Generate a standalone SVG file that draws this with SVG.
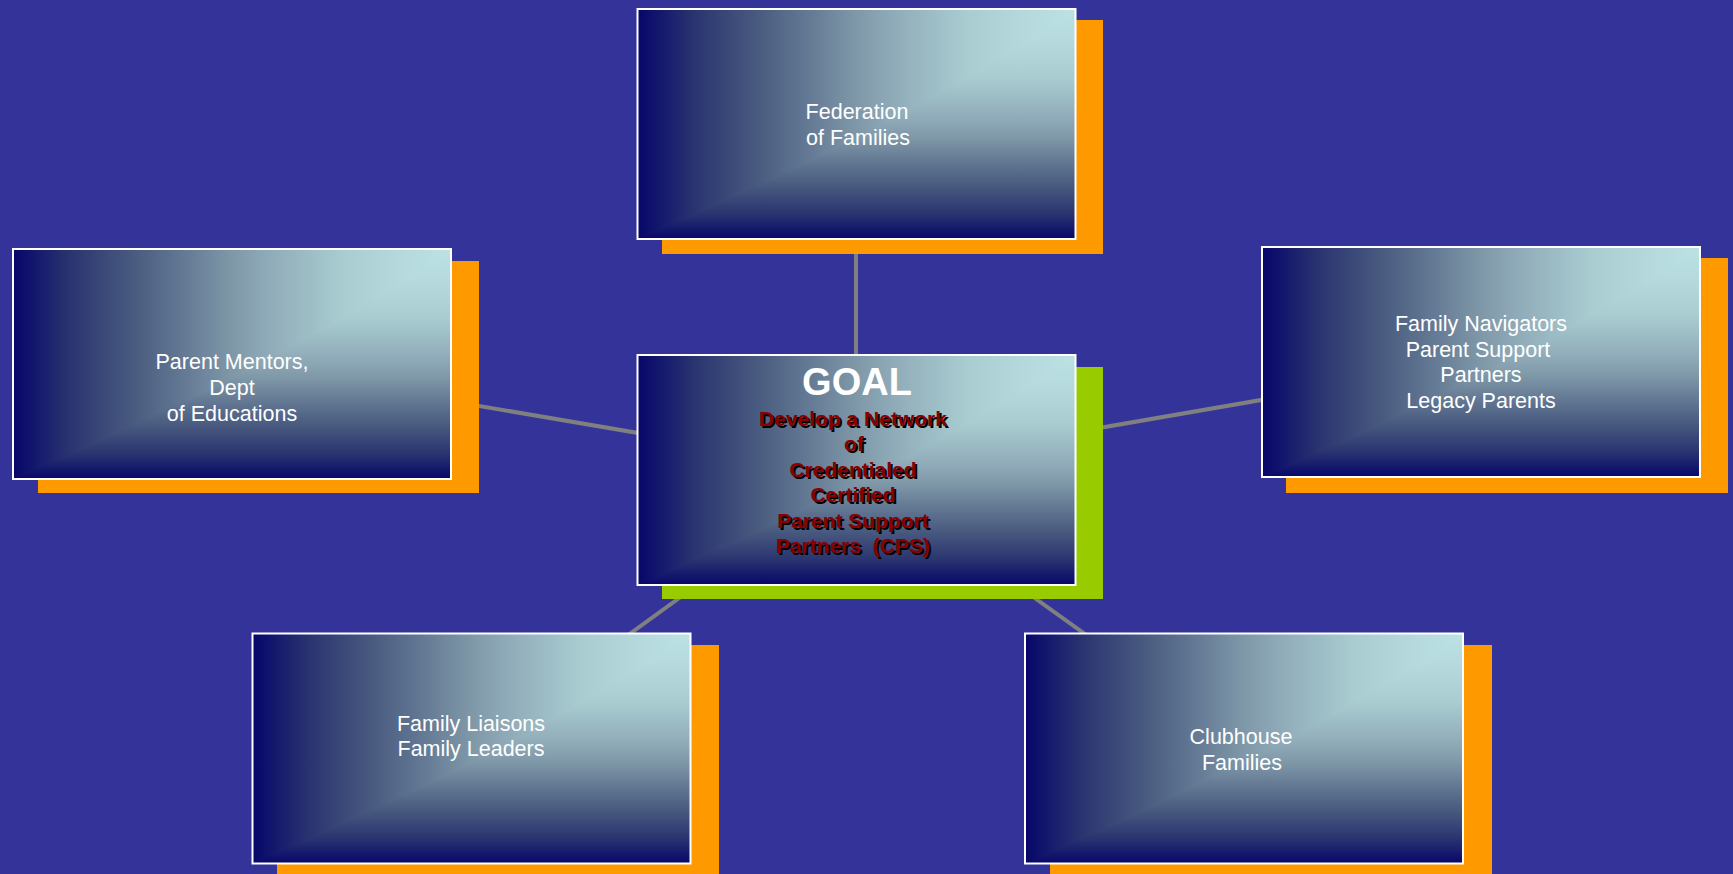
<svg xmlns="http://www.w3.org/2000/svg" width="1733" height="874" viewBox="0 0 1733 874">
<defs>
<linearGradient id="gh" x1="1" y1="0" x2="0" y2="0">
<stop offset="0" stop-color="#bce2e4"/>
<stop offset="0.1" stop-color="#b6dadd"/>
<stop offset="0.25" stop-color="#a8ccd0"/>
<stop offset="0.4" stop-color="#92aebb"/>
<stop offset="0.5" stop-color="#7f98a8"/>
<stop offset="0.6" stop-color="#667c96"/>
<stop offset="0.72" stop-color="#4a5c80"/>
<stop offset="0.87" stop-color="#2a3470"/>
<stop offset="1" stop-color="#06066a"/>
</linearGradient>
<linearGradient id="gv" gradientUnits="userSpaceOnUse" x1="0" y1="0" x2="0" y2="230">
<stop offset="0" stop-color="#bce2e4"/>
<stop offset="0.13" stop-color="#b6dadd"/>
<stop offset="0.3" stop-color="#a8ccd0"/>
<stop offset="0.46" stop-color="#92aebb"/>
<stop offset="0.56" stop-color="#7f98a8"/>
<stop offset="0.65" stop-color="#667c96"/>
<stop offset="0.76" stop-color="#4a5c80"/>
<stop offset="0.89" stop-color="#2a3470"/>
<stop offset="1" stop-color="#06066a"/>
</linearGradient>
<g id="card">
<rect x="0" y="0" width="438" height="230" fill="url(#gh)"/>
<polygon points="438,0 394.2,29.9 328.5,69 262.8,105.8 219,128.8 175.2,149.5 122.6,174.8 56.9,204.7 0,230 438,230" fill="url(#gv)"/>
<rect x="0" y="0" width="438" height="230" fill="none" stroke="#ffffff" stroke-width="2"/>
</g>
</defs>
<style>
.bg{fill:#333399}
.sh{fill:#ff9900}
.shg{fill:#99cc00}
.lbl{font-family:"Liberation Sans",Arial,sans-serif;font-size:21.5px;fill:#ffffff;text-anchor:middle}
.goal{font-family:"Liberation Sans",Arial,sans-serif;font-size:38px;font-weight:bold;fill:#ffffff;text-anchor:middle}
.red{font-family:"Liberation Sans",Arial,sans-serif;font-size:21px;font-weight:bold;fill:#880000;text-anchor:middle;white-space:pre}
.redsh{font-family:"Liberation Sans",Arial,sans-serif;font-size:21px;font-weight:bold;fill:#000000;text-anchor:middle;white-space:pre}
.con{stroke:#808080;stroke-width:4;fill:none}
</style>
<rect class="bg" x="0" y="0" width="1733" height="874"/>
<g id="connectors">
<line class="con" x1="856" y1="470" x2="856" y2="124"/>
<line class="con" x1="856" y1="470" x2="232" y2="364"/>
<line class="con" x1="856" y1="470" x2="1481" y2="362"/>
<line class="con" x1="856" y1="470" x2="472" y2="748"/>
<line class="con" x1="856" y1="470" x2="1244" y2="748"/>
</g>
<g id="node-federation">
<rect class="sh" x="662" y="20" width="441" height="234"/>
<use href="#card" x="637.5" y="9"/>
<text class="lbl" x="857" y="119">Federation</text>
<text class="lbl" x="858" y="145">of Families</text>
</g>
<g id="node-parent-mentors">
<rect class="sh" x="38" y="261" width="441" height="232"/>
<use href="#card" x="13" y="249"/>
<text class="lbl" x="232" y="369">Parent Mentors,</text>
<text class="lbl" x="232" y="395">Dept</text>
<text class="lbl" x="232" y="421">of Educations</text>
</g>
<g id="node-family-navigators">
<rect class="sh" x="1286" y="258" width="442" height="235"/>
<use href="#card" x="1262" y="247"/>
<text class="lbl" x="1481" y="331">Family Navigators</text>
<text class="lbl" x="1478" y="357">Parent Support</text>
<text class="lbl" x="1481" y="382">Partners</text>
<text class="lbl" x="1481" y="408">Legacy Parents</text>
</g>
<g id="node-family-liaisons">
<rect class="sh" x="277" y="645" width="442" height="240"/>
<use href="#card" x="252.5" y="633.5"/>
<text class="lbl" x="471" y="731">Family Liaisons</text>
<text class="lbl" x="471" y="756">Family Leaders</text>
</g>
<g id="node-clubhouse">
<rect class="sh" x="1050" y="645" width="442" height="240"/>
<use href="#card" x="1025" y="633.5"/>
<text class="lbl" x="1241" y="744">Clubhouse</text>
<text class="lbl" x="1242" y="770">Families</text>
</g>
<g id="node-goal">
<rect class="shg" x="662" y="367" width="441" height="232"/>
<use href="#card" x="637.5" y="355"/>
<text class="goal" x="857" y="395">GOAL</text>
<g transform="translate(2,2)">
<text class="redsh" x="853" y="426">Develop a Network</text>
<text class="redsh" x="854" y="451">of</text>
<text class="redsh" x="853" y="477">Credentialed</text>
<text class="redsh" x="853" y="502">Certified</text>
<text class="redsh" x="853" y="528">Parent Support</text>
<text class="redsh" x="853" y="553">Partners  (CPS)</text>
</g>
<text class="red" x="853" y="426">Develop a Network</text>
<text class="red" x="854" y="451">of</text>
<text class="red" x="853" y="477">Credentialed</text>
<text class="red" x="853" y="502">Certified</text>
<text class="red" x="853" y="528">Parent Support</text>
<text class="red" x="853" y="553">Partners  (CPS)</text>
</g>
</svg>
